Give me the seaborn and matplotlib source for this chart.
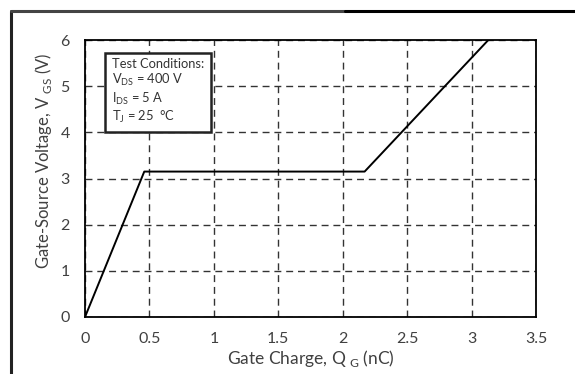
import matplotlib
matplotlib.use("Agg")
import matplotlib.pyplot as plt
from matplotlib.lines import Line2D
import seaborn as sns
import pandas as pd

qg = [0.0, 0.46, 2.17, 3.13]
vgs = [0.0, 3.15, 3.15, 6.0]
xticks = [0, 0.5, 1, 1.5, 2, 2.5, 3, 3.5]
xticklabels = ["0", "0.5", "1", "1.5", "2", "2.5", "3", "3.5"]
yticks = [0, 1, 2, 3, 4, 5, 6]
yticklabels = ["0", "1", "2", "3", "4", "5", "6"]

sns.set_theme(style="white")
plt.rcParams['font.family'] = ['Lato', 'DejaVu Sans']
plt.rcParams['mathtext.fontset'] = 'custom'
plt.rcParams['mathtext.rm'] = 'Lato'

df = pd.DataFrame({"Qg": qg, "Vgs": vgs})

fig = plt.figure(figsize=(5.75, 3.74), dpi=100)
ax = fig.add_axes([85/575, 1 - 317/374, (536-85)/575, (317-40)/374])
sns.lineplot(data=df, x="Qg", y="Vgs", ax=ax, color="black", linewidth=1.4, sort=False)
ax.set_xlim(0, 3.5)
ax.set_ylim(0, 6)
ax.set_xticks(xticks)
ax.set_xticklabels(xticklabels)
ax.set_yticks(yticks)
ax.set_yticklabels(yticklabels)
ax.tick_params(axis="x", length=0, labelsize=11.5, labelcolor="#404040", pad=11)
ax.tick_params(axis="y", length=0, labelsize=11.5, labelcolor="#404040", pad=11)
ax.grid(True, color="#333333", linestyle=(0, (5, 3.5)), linewidth=1.0)
for s in ax.spines.values():
    s.set_color("black")
    s.set_linewidth(1.3)
ax.set_xlabel("Gate Charge, Q$_{\\mathregular{\\ G}}$ (nC)", fontsize=12.5, color="#404040", labelpad=1)
ax.set_ylabel("Gate-Source Voltage, V$_{\\mathregular{\\ GS}}$ (V)", fontsize=12, color="#404040", labelpad=3)
ax.yaxis.set_label_coords(-0.068, 0.565)

ax.text(0.21, 5.62,
        "Test Conditions:\nV$_{\\mathregular{DS}}$ = 400 V\nI$_{\\mathregular{DS}}$ = 5 A\nT$_{\\mathregular{J}}$ = 25  °C",
        fontsize=9.3, color="#333333", va="top", ha="left", linespacing=1.2,
        bbox=dict(boxstyle="square,pad=0.55", facecolor="white", edgecolor="#222222", linewidth=1.8),
        zorder=5)

# outer frame
fig.add_artist(Line2D([11/575, 11/575], [0, 1 - 11/374], color="#222222", linewidth=2.2, transform=fig.transFigure))
fig.add_artist(Line2D([11/575, 345/575], [1 - 11/374, 1 - 11/374], color="#444444", linewidth=2.2, transform=fig.transFigure))
fig.add_artist(Line2D([345/575, 1], [1 - 11/374, 1 - 11/374], color="black", linewidth=2.2, transform=fig.transFigure))

fig.savefig("out.png", dpi=100)
